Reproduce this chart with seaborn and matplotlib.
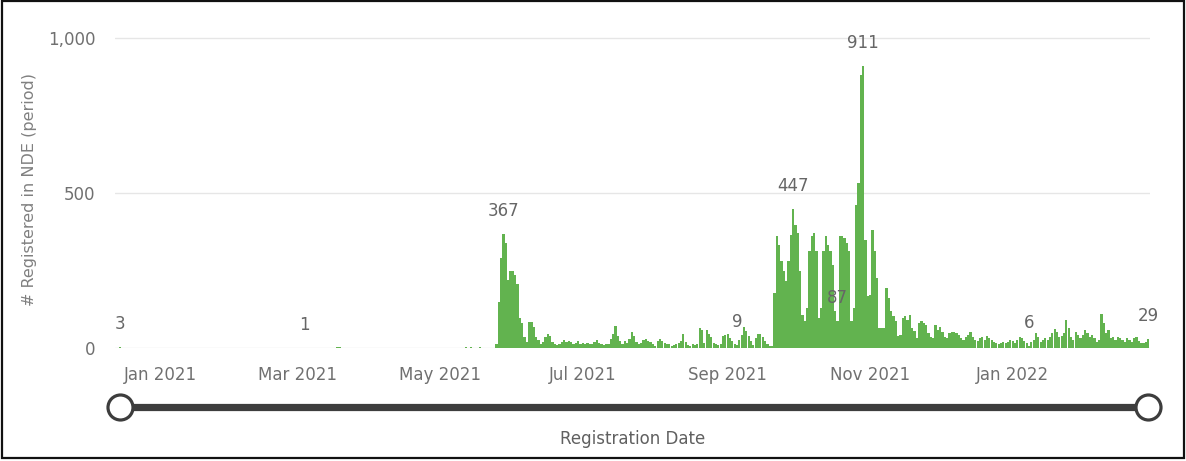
import matplotlib
matplotlib.use("Agg")
import matplotlib.pyplot as plt
import numpy as np
import pandas as pd
import seaborn as sns
from matplotlib.patches import Rectangle

# ---------------- data (daily registrations) ----------------
start_date = "2020-12-15"
end_date = "2022-02-28"

# sparse early registrations (all other early days are zero)
early_dates = ["2020-12-15", "2021-03-04", "2021-03-05", "2021-03-07", "2021-03-18",
               "2021-03-19", "2021-03-31", "2021-05-03", "2021-05-12", "2021-05-14",
               "2021-05-18", "2021-05-19"]
early_values = [3, 1, 1, 1, 2, 2, 1, 1, 2, 2, 2, 1]

# 2021-05-25 .. 2021-08-29
wave1_start = "2021-05-25"
wave1_values = [12, 148, 289, 367, 338, 218, 248, 248, 235, 208,
                96, 80, 35, 20, 84, 84, 68, 35, 25, 14,
                18, 35, 46, 40, 20, 12, 9, 14, 20, 25,
                20, 22, 18, 12, 16, 22, 14, 16, 12, 16,
                14, 12, 18, 25, 16, 12, 10, 12, 14, 30,
                46, 70, 40, 22, 14, 22, 16, 30, 52, 40,
                20, 12, 16, 26, 30, 24, 18, 12, 8, 22,
                30, 24, 16, 12, 12, 8, 9, 14, 16, 22,
                44, 20, 9, 8, 12, 9, 12, 66, 58, 16,
                58, 46, 36, 16, 12, 9, 12]

# 2021-08-30 .. 2021-11-23
wave2_start = "2021-08-30"
wave2_values = [38, 43, 45, 32, 22, 13, 9, 27, 43, 67,
                54, 38, 22, 11, 32, 45, 45, 34, 24, 13,
                5, 5, 177, 360, 333, 280, 247, 215, 280, 365,
                447, 398, 371, 247, 108, 86, 129, 312, 360, 371,
                312, 97, 129, 312, 360, 333, 312, 269, 118, 87,
                360, 360, 355, 339, 312, 86, 129, 462, 532, 880,
                911, 349, 167, 172, 382, 312, 226, 65, 65, 65,
                194, 161, 118, 102, 86, 38, 43, 97, 102, 91,
                108, 65, 54, 32, 81, 86]

# 2021-11-24 .. 2022-02-28
wave3_start = "2021-11-24"
wave3_values = [80, 74, 47, 37, 31, 74, 58, 69, 53, 37,
                31, 47, 53, 53, 47, 42, 31, 26, 37, 42,
                53, 37, 26, 24, 31, 37, 26, 39, 31, 26,
                20, 15, 13, 17, 20, 15, 20, 26, 24, 17,
                26, 37, 31, 24, 15, 6, 20, 26, 49, 37,
                20, 26, 31, 26, 37, 47, 60, 53, 37, 39,
                47, 90, 63, 37, 26, 53, 42, 31, 42, 58,
                47, 37, 42, 31, 20, 26, 110, 80, 47, 58,
                31, 37, 26, 37, 31, 26, 20, 31, 26, 20,
                31, 37, 24, 17, 15, 20, 29]

# days that carry a data label
label_dates = ["2020-12-15", "2021-03-04", "2021-05-28", "2021-09-05", "2021-09-29",
               "2021-10-18", "2021-10-29", "2022-01-08", "2022-02-28"]

x_title = "Registration Date"
y_title = "# Registered in NDE (period)"

# ---------------- assemble ----------------
dates = pd.date_range(start_date, end_date, freq="D")
series = pd.Series(0, index=dates, dtype=int)
series.loc[pd.to_datetime(early_dates)] = early_values
for seg_start, seg_vals in [(wave1_start, wave1_values), (wave2_start, wave2_values),
                            (wave3_start, wave3_values)]:
    idx = pd.date_range(seg_start, periods=len(seg_vals), freq="D")
    series.loc[idx] = seg_vals

df = pd.DataFrame({"date": dates.strftime("%Y-%m-%d"), "value": series.values})

# ---------------- figure ----------------
sns.set_theme(style="white")
plt.rcParams["font.family"] = ["DejaVu Sans"]

W, H = 1186, 461
fig = plt.figure(figsize=(W / 100, H / 100), dpi=100)
ax = fig.add_axes([115 / W, 1 - 348 / H, (1150 - 115) / W, (348 - 30) / H])

green = "#62b34f"
sns.barplot(data=df, x="date", y="value", color=green, saturation=1, width=0.95,
            linewidth=0, errorbar=None, ax=ax)

ax.set_ylim(0, 1026)
ax.set_xlim(-2.3, len(df) - 0.2)
for sp in ax.spines.values():
    sp.set_visible(False)
ax.set_yticks([0, 500, 1000])
ax.set_yticklabels(["0", "500", "1,000"])
ax.yaxis.grid(True, color="#e6e6e6", linewidth=1)
ax.set_axisbelow(True)

tick_pos = [i for i, d in enumerate(dates) if d.day == 1 and d.month % 2 == 1]
ax.set_xticks(tick_pos)
ax.set_xticklabels([dates[i].strftime("%b %Y") for i in tick_pos])
ax.tick_params(axis="x", length=0, pad=13, labelsize=12, labelcolor="#707070")
ax.tick_params(axis="y", length=0, pad=14, labelsize=12, labelcolor="#707070")
ax.set_xlabel("")
ax.set_ylabel("")

for d in label_dates:
    i = dates.get_loc(pd.Timestamp(d))
    v = int(series.iloc[i])
    ax.annotate(f"{v:,}", (i, v), xytext=(0, 23), textcoords="offset pixels",
                ha="center", va="center", fontsize=12, color="#666666")

fig.text(30 / W, 1 - 190 / H, y_title, rotation=90, ha="center", va="center",
         fontsize=11.5, color="#808080")
fig.text(633 / W, 1 - 439 / H, x_title, ha="center", va="center",
         fontsize=12, color="#606060")

# slider + frame overlay in pixel coordinates
ov = fig.add_axes([0, 0, 1, 1], facecolor="none")
ov.set_xlim(0, W)
ov.set_ylim(H, 0)
ov.axis("off")
ov.plot([120, 1148], [407, 407], color="#3d3d3d", linewidth=5.2, solid_capstyle="butt", zorder=2)
ov.plot([120, 1148], [407, 407], linestyle="none", marker="o", markersize=18,
        markerfacecolor="white", markeredgecolor="#3d3d3d", markeredgewidth=2.3, zorder=3)
ov.add_patch(Rectangle((1.5, 1.5), 1182, 456.5, fill=False, edgecolor="#111111",
                       linewidth=1.6, zorder=4))

fig.savefig("out.png", dpi=100)
